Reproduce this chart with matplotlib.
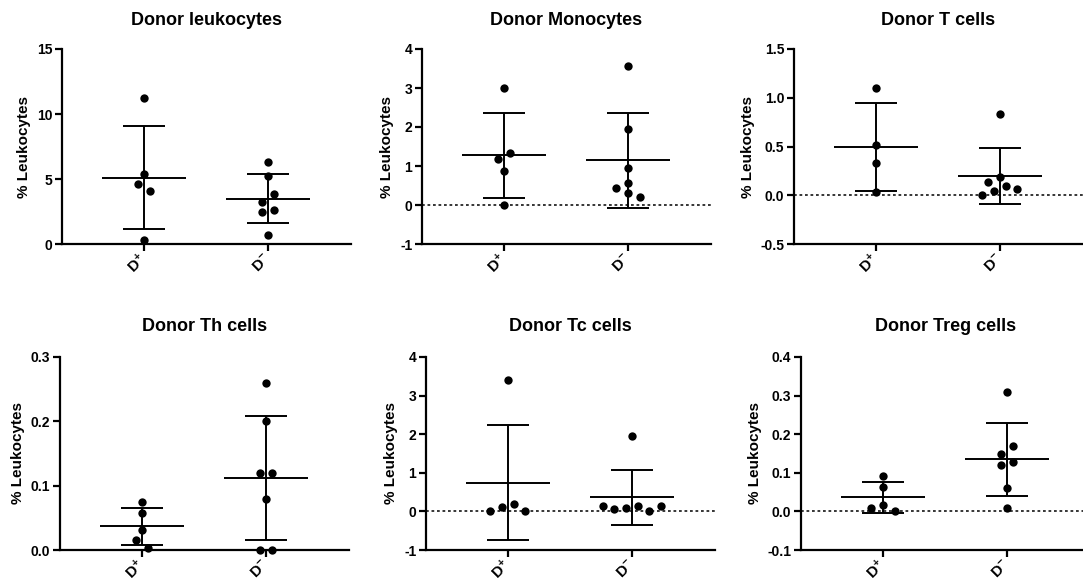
import numpy as np
import matplotlib
matplotlib.use("Agg")
import matplotlib.pyplot as plt

plt.rcParams['font.family'] = ['Liberation Sans', 'DejaVu Sans']
plt.rcParams['font.weight'] = 'bold'
plt.rcParams['axes.labelweight'] = 'bold'
plt.rcParams['axes.titleweight'] = 'bold'
plt.rcParams['axes.unicode_minus'] = False
plt.rcParams['mathtext.fontset'] = 'custom'
plt.rcParams['mathtext.rm'] = 'Liberation Sans:bold'
plt.rcParams['mathtext.it'] = 'Liberation Sans:bold'
plt.rcParams['mathtext.bf'] = 'Liberation Sans:bold'

# Input data (% leukocytes)
titles = ["Donor leukocytes", "Donor Monocytes", "Donor T cells",
          "Donor Th cells", "Donor Tc cells", "Donor Treg cells"]
group_labels = ["D$^{+}$", "D$^{-}$"]
ylabel = "% Leukocytes"

leuk_pos = [11.23, 5.36, 4.64, 4.05, 0.28]
leuk_neg = [6.33, 5.26, 3.87, 3.26, 2.59, 2.44, 0.67]
mono_pos = [3.00, 1.34, 1.18, 0.87, 0.01]
mono_neg = [3.57, 1.96, 0.95, 0.57, 0.44, 0.31, 0.20]
tcell_pos = [1.10, 0.517, 0.328, 0.036]
tcell_neg = [0.83, 0.187, 0.139, 0.0945, 0.06, 0.046, 0.0]
th_pos = [0.0745, 0.058, 0.031, 0.016, 0.0036]
th_neg = [0.26, 0.20, 0.1195, 0.1195, 0.08, 0.0, 0.0]
tc_pos = [3.405, 0.19, 0.12, 0.0, 0.0]
tc_neg = [1.966, 0.147, 0.095, 0.0, 0.052, 0.147, 0.147]
treg_pos = [0.0924, 0.0632, 0.016, 0.010, 0.0]
treg_neg = [0.31, 0.17, 0.149, 0.129, 0.12, 0.0607, 0.01]

series = [(leuk_pos, leuk_neg), (mono_pos, mono_neg), (tcell_pos, tcell_neg),
          (th_pos, th_neg), (tc_pos, tc_neg), (treg_pos, treg_neg)]
ylims = [(0, 15), (-1, 4), (-0.5, 1.5), (0, 0.3), (-1, 4), (-0.1, 0.4)]
yticks = [[0, 5, 10, 15], [-1, 0, 1, 2, 3, 4], [-0.5, 0.0, 0.5, 1.0, 1.5],
          [0.0, 0.1, 0.2, 0.3], [-1, 0, 1, 2, 3, 4], [-0.1, 0.0, 0.1, 0.2, 0.3, 0.4]]
yfmt = ["{:.0f}", "{:.0f}", "{:.1f}", "{:.1f}", "{:.0f}", "{:.1f}"]

# panel placement in pixels (left, top), figure 1083 x 581
W, H = 1083, 581
lefts = [62, 422, 794, 60, 426, 801]
tops = [49, 49, 49, 357, 357, 357]
heights = [195, 195, 195, 193, 193, 193]
width_px = 289
xlim = (-0.66, 1.67)


def spread(vals, ppu_y, ppu_x, step=0.094, mind=10.0):
    """Greedy beeswarm in pixel space, then centre each horizontal row."""
    ys = np.asarray(vals, float) * ppu_y
    offs = np.zeros(len(ys))
    cands = [0.0]
    for k in range(1, 12):
        cands += [-0.5 * k, 0.5 * k]
    for i in range(len(ys)):
        for c in cands:
            dx = c * step * ppu_x
            if all(np.hypot(dx - offs[j], ys[i] - ys[j]) >= mind for j in range(i)):
                break
        offs[i] = dx
    order = np.argsort(ys)
    clusters = [[order[0]]]
    for a, b in zip(order[:-1], order[1:]):
        if ys[b] - ys[a] < mind:
            clusters[-1].append(b)
        else:
            clusters.append([b])
    for cl in clusters:
        offs[cl] -= (offs[cl].max() + offs[cl].min()) / 2
    return offs / ppu_x


fig = plt.figure(figsize=(W / 100, H / 100), dpi=100)

for p in range(6):
    ax = fig.add_axes([lefts[p] / W, 1 - (tops[p] + heights[p]) / H,
                       width_px / W, heights[p] / H])
    ax.set_xlim(xlim)
    ax.set_ylim(ylims[p])
    for s in ["top", "right"]:
        ax.spines[s].set_visible(False)
    for s in ["left", "bottom"]:
        ax.spines[s].set_linewidth(1.6)

    ppu_x = width_px / (xlim[1] - xlim[0])
    ppu_y = heights[p] / (ylims[p][1] - ylims[p][0])

    if ylims[p][0] < 0:
        ax.axhline(0, color="k", lw=1.1, ls=(0, (1.8, 1.8)), zorder=1)

    for gi, vals in enumerate(series[p]):
        vals = np.asarray(vals, float)
        offs = spread(vals, ppu_y, ppu_x)
        ax.scatter(gi + offs, vals, s=36, c="k", linewidths=0, zorder=3, clip_on=False)
        m = vals.mean()
        sd = vals.std(ddof=1)
        ax.hlines(m, gi - 0.336, gi + 0.336, color="k", lw=1.4, zorder=2)
        ax.hlines([m - sd, m + sd], gi - 0.168, gi + 0.168, color="k", lw=1.4, zorder=2)
        ax.vlines(gi, m - sd, m + sd, color="k", lw=1.4, zorder=2)

    ax.set_yticks(yticks[p])
    ax.set_yticklabels([yfmt[p].format(t) for t in yticks[p]],
                       fontsize=10, fontweight="bold")
    ax.set_xticks([0, 1])
    ax.set_xticklabels(group_labels, rotation=45, ha="right", va="center",
                       rotation_mode="anchor", fontsize=11, fontweight="bold")
    ax.tick_params(axis="both", direction="out", length=5, width=1.6)
    ax.tick_params(axis="y", pad=2)
    ax.tick_params(axis="x", pad=4)

    ax.set_ylabel(ylabel, fontsize=11, fontweight="bold", labelpad=4)
    ax.set_title(titles[p], fontsize=13, fontweight="bold",
                 pad=17 if p < 3 else 19)

fig.savefig("out.png", dpi=100)
